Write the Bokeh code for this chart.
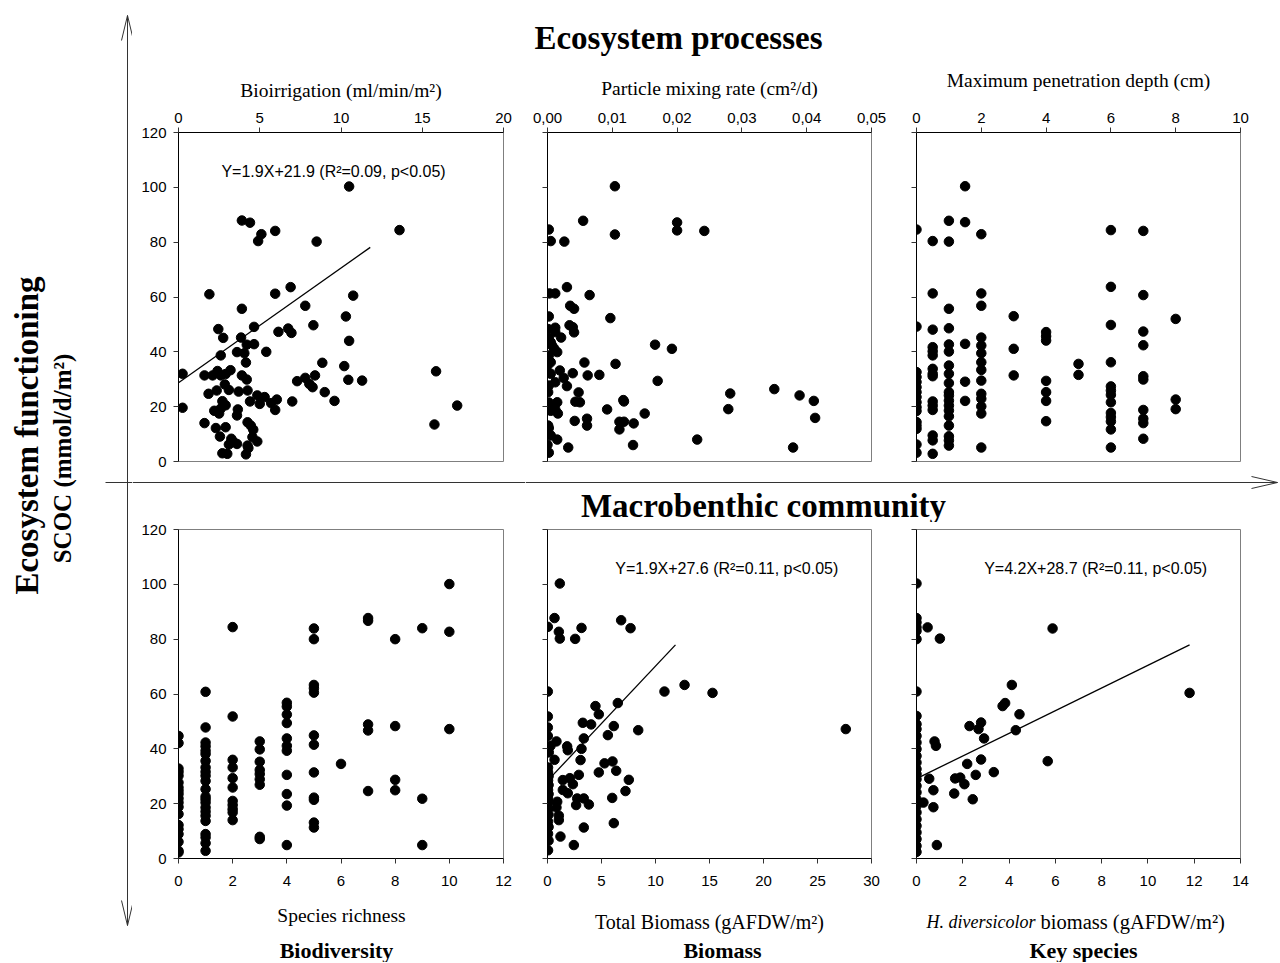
import math
from bokeh.plotting import figure
from bokeh.layouts import row, column
from bokeh.models import Range1d, FixedTicker, CustomJSTickFormatter, Label
from bokeh.core.properties import value
from bokeh.embed import file_html
from bokeh.resources import INLINE

SANS = "Liberation Sans"
SERIF = "Liberation Serif"

# ---------------- data ----------------
scoc_ticks = [0, 20, 40, 60, 80, 100, 120]

# Bioirrigation (ml/min/m2) vs SCOC
bioirr_x = [10.5, 3.9, 4.4, 5.1, 4.9, 5.95, 8.5, 13.6,
            1.9, 5.95, 6.9, 10.75, 3.9, 7.8, 10.3, 8.3, 4.65, 2.45, 2.75, 6.15, 6.75, 6.95, 10.5, 3.85,
            4.2, 4.65, 3.6, 4.05, 5.4, 2.6, 4.15, 8.85, 10.2,
            0.25, 1.6, 2.1, 2.4, 2.6, 2.9, 3.2, 3.9, 4.2, 8.4, 7.8, 7.3, 8.05, 8.25, 10.45, 11.3, 15.85,
            2.85, 3.1, 2.35, 3.7, 4.25, 1.85, 4.85, 5.3, 6.05, 9.0, 9.6, 7.0, 4.4, 5.0, 5.7, 5.95, 0.25,
            2.7, 2.9, 2.6, 2.2, 2.5, 3.65, 3.6, 17.15, 1.6, 2.3, 2.9, 2.55, 4.25, 4.45, 4.6, 4.55, 4.85, 15.75,
            3.25, 3.4, 3.1, 3.6, 2.7, 3.0, 4.25, 4.3, 4.15]
bioirr_scoc = [100.3, 87.9, 87.1, 82.9, 80.4, 84.1, 80.2, 84.4,
               61.0, 61.2, 63.6, 60.5, 55.7, 56.8, 52.9, 49.7, 49.1, 48.3, 45.1, 47.3, 48.5, 46.9, 44.0, 45.2,
               42.6, 42.8, 39.9, 39.5, 40.0, 38.7, 36.1, 36.0, 34.8,
               32.0, 31.4, 31.4, 33.0, 31.4, 31.9, 33.3, 31.4, 29.9, 31.4, 30.5, 29.3, 28.3, 27.1, 29.8, 29.5, 32.9,
               28.1, 26.1, 25.9, 25.5, 25.9, 24.7, 24.1, 23.5, 22.6, 25.3, 22.1, 21.9, 21.9, 21.0, 21.3, 18.8, 19.6,
               22.0, 20.5, 19.3, 18.5, 17.5, 19.0, 16.8, 20.4, 14.0, 12.2, 12.5, 9.1, 14.3, 13.1, 11.6, 8.9, 7.3, 13.5,
               8.3, 7.1, 6.2, 6.4, 3.0, 2.8, 5.8, 4.9, 2.6]
bioirr_fit_x = [0.0, 11.8]
bioirr_fit_y = [28.7, 78.1]

# Particle mixing rate (cm2/d) vs SCOC
mixing_x = [0.0104, 0.0055, 0.0200, 0.0200, 0.0242, 0.0104, 0.0002, 0.0005, 0.0026,
            0.0030, 0.0003, 0.0012, 0.0065, 0.0097, 0.0035, 0.0041, 0.0002, 0.0034, 0.0039, 0.0041, 0.0001, 0.0012, 0.0012, 0.0021,
            0.0002, 0.0005, 0.0007, 0.0010, 0.0015, 0.0002, 0.0005, 0.0000,
            0.0166, 0.0192, 0.0057, 0.0105, 0.0019, 0.0025, 0.0030, 0.0039, 0.0062, 0.0080, 0.0012, 0.0002, 0.0001, 0.0005,
            0.0170, 0.0048, 0.0282, 0.0350, 0.0389, 0.0411, 0.0043, 0.0050, 0.0117, 0.0118,
            0.0002, 0.0007, 0.0012, 0.0015, 0.0016, 0.0005,
            0.0092, 0.0150, 0.0279, 0.0413, 0.0042, 0.0061, 0.0061, 0.0111, 0.0118, 0.0111, 0.0133, 0.0001, 0.0002,
            0.0005, 0.0015, 0.0231, 0.0000, 0.0032, 0.0132, 0.0379, 0.0002]
mixing_scoc = [100.4, 87.8, 87.2, 84.3, 84.1, 82.8, 84.6, 80.4, 80.2,
               63.6, 61.3, 61.3, 60.7, 52.3, 56.8, 55.7, 52.9, 49.7, 49.0, 47.1, 48.3, 48.8, 47.2, 45.2,
               45.0, 43.5, 42.3, 41.3, 39.9, 38.7, 36.2, 35.0,
               42.6, 41.1, 36.1, 35.6, 33.2, 30.5, 27.5, 32.2, 31.4, 31.6, 28.9, 27.7, 25.3, 32.0,
               29.4, 25.2, 24.8, 26.4, 24.1, 22.1, 21.8, 21.6, 22.4, 21.9,
               21.5, 20.2, 19.0, 21.6, 17.5, 18.5,
               19.0, 17.5, 19.1, 15.9, 14.8, 15.6, 13.1, 14.5, 14.5, 11.7, 13.9, 13.1, 12.2,
               9.5, 8.0, 8.0, 6.1, 5.1, 6.0, 5.1, 3.2]

# Maximum penetration depth (cm) vs SCOC
depth_levels = [0, 0.5, 1, 1.5, 2, 3, 4, 5, 6, 7, 8]
depth_scoc_by_level = [
    [84.6, 49.2, 32.6, 30.8, 29.0, 27.1, 25.3, 23.5, 21.6, 19.8, 18.4, 14.4, 13.1, 11.9, 6.2, 3.2],
    [80.4, 61.3, 48.1, 41.7, 40.2, 38.7, 33.8, 32.0, 31.1, 21.9, 20.4, 18.8, 9.5, 7.7, 2.8],
    [87.8, 80.2, 55.7, 48.6, 42.7, 40.1, 35.0, 32.0, 28.6, 25.3, 24.1, 22.2, 20.4, 18.6, 16.5, 13.1, 9.2, 7.7, 5.8],
    [100.4, 87.3, 42.9, 29.1, 22.1],
    [82.9, 61.3, 56.8, 45.2, 42.3, 39.5, 36.2, 33.4, 29.5, 24.7, 22.9, 20.1, 17.5, 5.1],
    [53.0, 41.1, 31.4],
    [47.2, 45.7, 44.1, 29.4, 25.3, 22.1, 14.7],
    [35.6, 31.6],
    [84.4, 63.7, 49.8, 36.2, 27.4, 25.9, 24.3, 21.6, 17.7, 16.2, 14.6, 11.7, 5.1],
    [84.1, 60.7, 47.4, 42.4, 31.1, 29.9, 18.8, 15.6, 14.0, 8.3],
    [52.0, 22.6, 19.1],
]

# Species richness vs SCOC
richness_levels = [0, 1, 2, 3, 4, 5, 6, 7, 8, 9, 10]
richness_scoc_by_level = [
    [44.7, 42.1, 32.8, 31.6, 30.2, 27.7, 25.9, 24.7, 23.5, 21.9, 20.4, 18.8, 16.2, 12.2, 10.7, 8.9, 6.1, 2.8, 2.2],
    [60.8, 47.8, 42.3, 40.9, 39.3, 38.1, 35.6, 33.2, 31.6, 30.2, 28.3, 25.3, 22.6, 21.6, 20.4, 18.6, 17.1, 15.6, 13.7, 8.9, 7.7, 5.6, 2.8],
    [84.4, 51.8, 36.0, 33.2, 29.3, 25.9, 21.0, 19.5, 18.0, 16.8, 14.0],
    [42.7, 39.8, 35.3, 32.3, 30.8, 28.9, 26.9, 7.9, 7.1],
    [56.8, 55.4, 52.5, 49.4, 43.8, 41.1, 39.3, 30.5, 23.5, 19.3, 4.9],
    [83.9, 80.0, 63.3, 62.1, 60.5, 44.9, 41.5, 31.4, 22.2, 21.4, 13.1, 11.3],
    [34.5],
    [87.7, 86.7, 48.9, 46.7, 24.6],
    [80.0, 48.3, 28.7, 24.9],
    [84.0, 21.8, 4.9],
    [100.1, 82.7, 47.2],
]

# Total biomass (gAFDW/m2) vs SCOC
biomass_x = [1.14, 0.65, 0.03, 1.05, 1.14, 2.56, 3.15, 6.82, 7.69,
             0.03, 10.83, 12.69, 15.28, 27.62, 4.44, 4.75, 6.51, 3.27, 4.04, 6.14, 8.40, 5.59,
             0.03, 0.03, 0.03, 0.83, 0.28, 0.12, 1.82, 1.88, 3.36, 3.15, 0.65, 3.06, 5.28, 6.02, 6.36, 4.75,
             0.05, 0.05, 0.10, 0.05, 0.10, 0.05, 0.10, 0.05, 0.10, 0.05, 0.10, 0.05, 0.10, 0.05, 0.10, 0.05,
             1.42, 2.07, 2.35, 2.90, 1.42, 1.88, 7.53, 7.22, 5.99, 2.75, 3.36, 3.83, 2.65, 0.90, 0.83, 1.05, 1.05,
             3.36, 6.14, 1.20, 2.44]
biomass_scoc = [100.3, 87.7, 84.5, 82.7, 80.2, 80.1, 84.1, 86.9, 84.0,
                60.9, 60.9, 63.3, 60.4, 47.2, 55.6, 52.6, 56.7, 49.5, 48.9, 48.3, 46.8, 45.0,
                51.8, 47.8, 44.7, 42.7, 41.1, 38.7, 40.9, 39.5, 43.8, 40.0, 36.0, 35.9, 34.7, 35.4, 32.0, 31.4,
                33.2, 31.5, 30.0, 28.5, 26.8, 25.0, 23.5, 22.0, 20.5, 18.0, 16.0, 13.5, 11.5, 9.0, 6.5, 3.0,
                28.6, 29.3, 27.1, 30.5, 25.0, 23.8, 28.7, 24.6, 22.1, 21.9, 21.9, 19.7, 19.5, 20.7, 18.6, 15.6, 14.0,
                11.3, 12.9, 8.0, 4.9]
biomass_fit_x = [0.28, 11.85]
biomass_fit_y = [29.5, 77.9]

# H. diversicolor biomass (gAFDW/m2) vs SCOC
hediv_x = [0, 0, 0, 0, 0, 0, 0, 0, 0, 0, 0, 0, 0, 0, 0, 0, 0, 0, 0, 0, 0, 0, 0, 0, 0, 0, 0, 0, 0,
           0.48, 1.01, 5.88, 11.80, 4.12, 3.72, 3.83, 4.45, 4.29, 2.29, 2.68, 2.79, 2.92, 0.78, 0.84,
           2.19, 2.79, 5.67, 3.34, 2.56, 1.67, 1.89, 2.07, 0.55, 0.73, 1.63, 2.43, 0.30, 0.73, 0.88]
hediv_scoc = [100.3, 87.7, 86.1, 84.3, 83.0, 80.0, 60.9, 52.0, 49.0, 47.2, 44.7, 42.3, 39.9, 37.4, 35.0,
              32.6, 30.8, 28.9, 26.5, 24.1, 21.6, 19.2, 16.8, 14.3, 11.9, 9.5, 7.1, 4.6, 2.4,
              84.3, 80.2, 83.9, 60.4, 63.3, 55.6, 56.7, 52.6, 46.8, 48.3, 47.2, 49.6, 43.8, 42.7, 41.1,
              34.5, 36.1, 35.5, 31.5, 30.5, 29.2, 29.5, 27.1, 29.1, 24.9, 23.7, 21.6, 20.4, 18.7, 4.9]
hediv_fit_x = [0.09, 11.8]
hediv_fit_y = [29.5, 77.9]

# equation texts
eq_bioirr = "Y=1.9X+21.9 (R\u00b2=0.09, p<0.05)"
eq_biomass = "Y=1.9X+27.6 (R\u00b2=0.11, p<0.05)"
eq_hediv = "Y=4.2X+28.7 (R\u00b2=0.11, p<0.05)"

# axis ticks
bioirr_ticks = [0, 5, 10, 15, 20]
mixing_ticks = [0, 0.01, 0.02, 0.03, 0.04, 0.05]
depth_ticks = [0, 2, 4, 6, 8, 10]
richness_ticks = [0, 2, 4, 6, 8, 10, 12]
biomass_ticks = [0, 5, 10, 15, 20, 25, 30]
hediv_ticks = [0, 2, 4, 6, 8, 10, 12, 14]

depth_x = [lv for lv, ys in zip(depth_levels, depth_scoc_by_level) for _ in ys]
depth_scoc = [y for ys in depth_scoc_by_level for y in ys]
richness_x = [lv for lv, ys in zip(richness_levels, richness_scoc_by_level) for _ in ys]
richness_scoc = [y for ys in richness_scoc_by_level for y in ys]


# ---------------- helpers ----------------
def deco(x0, x1, y0, y1):
    """Decoration canvas using absolute page coordinates of the reference."""
    p = figure(width=x1 - x0, height=y1 - y0, x_range=Range1d(x0, x1), y_range=Range1d(y1, y0),
               output_backend="svg", toolbar_location=None, x_axis_type=None, y_axis_type=None,
               min_border=0)
    p.min_border_left = p.min_border_right = p.min_border_top = p.min_border_bottom = 0
    p.frame_align = False
    p.outline_line_color = None
    p.background_fill_color = "white"
    p.border_fill_color = "white"
    return p


def txt(p, x, y, s, font, size, style="normal", align="center", angle=0.0):
    p.text(x=[x], y=[y], text=[s], text_font=value(font), text_font_size=value(size),
           text_font_style=style, text_align=align, text_baseline="middle", angle=angle,
           text_color="black")


def hline(p, x0, x1, y):
    p.line([x0, x1], [y, y], line_color="#333333", line_width=1)


def panel(w, h, bl, br, bt, bb, xend, xticks, above, ylabels, xlabel=None, label_standoff=6, fmt=None):
    p = figure(width=w, height=h, x_range=Range1d(0, xend), y_range=Range1d(0, 120),
               output_backend="svg", toolbar_location=None,
               x_axis_location="above" if above else "below",
               min_border_left=bl, min_border_right=br, min_border_top=bt, min_border_bottom=bb)
    p.frame_align = False
    p.grid.visible = False
    p.outline_line_color = "#7f7f7f"
    p.outline_line_width = 1
    p.background_fill_color = "white"
    p.border_fill_color = "white"
    xa, ya = p.xaxis[0], p.yaxis[0]
    xa.ticker = FixedTicker(ticks=xticks)
    ya.ticker = FixedTicker(ticks=scoc_ticks)
    for ax in (xa, ya):
        ax.axis_line_color = "black"
        ax.axis_line_width = 1
        ax.major_tick_line_color = "#333333"
        ax.major_tick_in = 0
        ax.major_tick_out = 5
        ax.minor_tick_line_color = None
        ax.major_label_text_font = SANS
        ax.major_label_text_font_size = "15px"
        ax.major_label_text_color = "black"
    xa.major_label_standoff = 5 if above else 12
    ya.major_label_standoff = 7
    if fmt is not None:
        xa.formatter = fmt
    if not ylabels:
        # ticks only, no tick labels on the inner panels
        ya.major_label_text_font_size = "0px"
        ya.major_label_text_color = None
        ya.major_label_standoff = 0
    if xlabel:
        xa.axis_label = xlabel
        xa.axis_label_text_font = SERIF
        xa.axis_label_text_font_size = "19.5px"
        xa.axis_label_text_font_style = "normal"
        xa.axis_label_text_color = "black"
        xa.axis_label_standoff = label_standoff
    return p


def dots(p, xs, ys):
    p.scatter(xs, ys, size=9.5, marker="circle", fill_color="black", line_color="black")


def eq(p, x, y, s):
    p.add_layout(Label(x=x, y=y, text=s, text_align="center", text_baseline="middle",
                       text_font=SANS, text_font_size="16px", text_color="black"))


# ---------------- layout geometry (absolute reference coords) ----------------
TOTAL_H = 962
TOTAL_R = 1279
C1 = 525          # boundary between first and remaining panel columns

# left strip
L = deco(0, 132, 0, TOTAL_H)
L.line([127, 127], [15, 925], line_color="#333333", line_width=1)
L.multi_line([[121, 127, 133], [121, 127, 133]], [[40, 15, 40], [900, 925, 900]],
             line_color="#333333", line_width=1)
hline(L, 105, 132, 482)
txt(L, 26, 435, "Ecosystem functioning", SERIF, "33px", "bold", angle=math.pi / 2)
txt(L, 62, 458, "SCOC (mmol/d/m\u00b2)", SERIF, "25px", "bold", angle=math.pi / 2)

# ---- first panel column (x 132..525) ----
T1 = deco(132, C1, 0, 62)
M1 = deco(132, C1, 472, 514)
hline(M1, 132, C1, 482)
B1 = deco(132, C1, 898, TOTAL_H)
txt(B1, 341, 915, "Species richness", SERIF, "19.5px")
txt(B1, 336, 950, "Biodiversity", SERIF, "22px", "bold")

# ---- remaining columns (x 525..1279) ----
T2 = deco(C1, TOTAL_R, 0, 62)
txt(T2, 678, 37, "Ecosystem processes", SERIF, "33px", "bold")
M2 = deco(C1, TOTAL_R, 462, 522)
hline(M2, C1, 1277, 482)
M2.multi_line([[1251, 1277, 1251]], [[476, 482, 488]], line_color="#333333", line_width=1)
txt(M2, 763, 505, "Macrobenthic community", SERIF, "33px", "bold")
B2 = deco(C1, TOTAL_R, 898, TOTAL_H)
txt(B2, 709, 921, "Total Biomass (gAFDW/m\u00b2)", SERIF, "20px")
txt(B2, 722, 950, "Biomass", SERIF, "22px", "bold")
txt(B2, 1035, 921, "H. diversicolor", SERIF, "18px", "italic", align="right")
txt(B2, 1040, 921, "biomass (gAFDW/m\u00b2)", SERIF, "20.5px", align="left")
txt(B2, 1083, 950, "Key species", SERIF, "22px", "bold")

comma_fmt = CustomJSTickFormatter(code="return tick.toFixed(2).replace('.', ',');")

W3 = TOTAL_R - 894
R3 = W3 - 22 - 324

# upper row: frames 132..461
P1 = panel(393, 410, 46, 22, 70, 11, 20, bioirr_ticks, True, True,
           "Bioirrigation (ml/min/m\u00b2)", label_standoff=9)
dots(P1, bioirr_x, bioirr_scoc)
P1.line(bioirr_fit_x, bioirr_fit_y, line_color="black", line_width=1.3)
eq(P1, 9.54, 105.8, eq_bioirr)

P2 = panel(369, 400, 22, 23, 70, 1, 0.05, mixing_ticks, True, False,
           "Particle mixing rate (cm\u00b2/d)", label_standoff=11, fmt=comma_fmt)
dots(P2, mixing_x, mixing_scoc)

P3 = panel(W3, 400, 22, R3, 70, 1, 10, depth_ticks, True, False,
           "Maximum penetration depth (cm)", label_standoff=19)
dots(P3, depth_x, depth_scoc)

# lower row: frames 529..858
P4 = panel(393, 384, 46, 22, 15, 40, 12, richness_ticks, False, True)
dots(P4, richness_x, richness_scoc)

P5 = panel(369, 376, 22, 23, 7, 40, 30, biomass_ticks, False, False)
dots(P5, biomass_x, biomass_scoc)
P5.line(biomass_fit_x, biomass_fit_y, line_color="black", line_width=1.3)
eq(P5, 16.6, 105.8, eq_biomass)

P6 = panel(W3, 376, 22, R3, 7, 40, 14, hediv_ticks, False, False)
dots(P6, hediv_x, hediv_scoc)
P6.line(hediv_fit_x, hediv_fit_y, line_color="black", line_width=1.3)
eq(P6, 7.74, 105.8, eq_hediv)

col1 = column(T1, P1, M1, P4, B1, spacing=0)
rest = column(T2, row(P2, P3, spacing=0), M2, row(P5, P6, spacing=0), B2, spacing=0)
layout = row(L, col1, rest, spacing=0)

open("out.html", "w").write(file_html(layout, INLINE))
